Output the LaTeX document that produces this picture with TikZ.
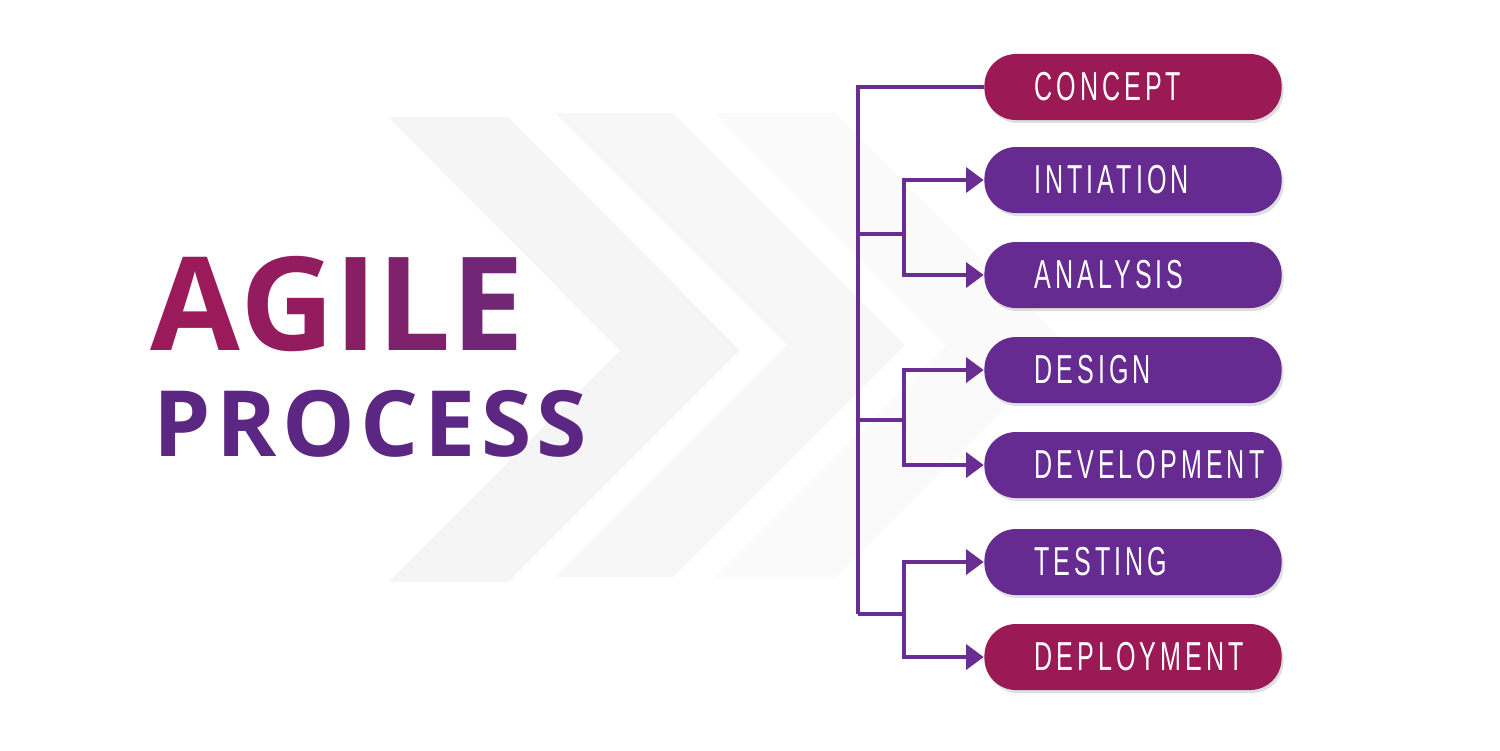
\documentclass[tikz,border=0pt]{standalone}
\usepackage{fontspec}
\setmainfont{Open Sans}
\newfontfamily\stepfont[LetterSpace=10,FakeStretch=0.62]{Liberation Sans}
\newfontfamily\agilefont[LetterSpace=45]{Open Sans}
\newfontfamily\processfont[LetterSpace=6]{Open Sans}
\usetikzlibrary{arrows.meta,shadows}
\definecolor{magentabox}{HTML}{9B1A55}
\definecolor{purplebox}{HTML}{652B90}
\definecolor{linepurple}{HTML}{6A2D91}
\tikzset{
  stepbox/.style={rounded corners=9pt,minimum width=2.97cm,minimum height=0.66cm,
    text=white,font=\stepfont\fontsize{11.5}{12}\selectfont,align=left,text width=1.97cm,
    inner xsep=0.5cm,
    drop shadow={opacity=.25,shadow xshift=.02cm,shadow yshift=-.03cm}},
  link/.style={linepurple,line width=1.4pt},
  tip/.style={-{Triangle[length=5pt,width=7pt]}}
}
\begin{document}
\begin{tikzpicture}[x=0.01cm,y=-0.01cm]
\useasboundingbox (0,0) rectangle (1500,750);
% chevrons in the background
\fill[black!2] (715,113) -- (835,113) -- (1067,345) -- (835,577) -- (715,577) -- (947,345) -- cycle;
\fill[black!3] (555,113) -- (673,113) -- (905,345) -- (673,577) -- (555,577) -- (787,345) -- cycle;
\fill[black!4] (388,117) -- (508,117) -- (740,350) -- (508,582) -- (388,582) -- (620,350) -- cycle;
% title
\node[anchor=south west,inner sep=0pt,font=\agilefont\bfseries\fontsize{37}{40}\selectfont] (agile) at (150,352)
  {\textcolor[HTML]{9A1A5A}{A}\textcolor[HTML]{921C5E}{G}\textcolor[HTML]{8A1E64}{I}\textcolor[HTML]{7E226C}{L}\textcolor[HTML]{722676}{E}};
\node[anchor=south west,inner sep=0pt,font=\processfont\bfseries\fontsize{26}{30}\selectfont,text=purplebox!90!black] (process) at (153,458) {PROCESS};
% steps
\node[stepbox,fill=magentabox] (concept) at (1133,87) {CONCEPT};
\node[stepbox,fill=purplebox] (initiation) at (1133,180) {INTIATION};
\node[stepbox,fill=purplebox] (analysis) at (1133,275) {ANALYSIS};
\node[stepbox,fill=purplebox] (design) at (1133,370) {DESIGN};
\node[stepbox,fill=purplebox] (development) at (1133,465) {DEVELOPMENT};
\node[stepbox,fill=purplebox] (testing) at (1133,562) {TESTING};
\node[stepbox,fill=magentabox] (deployment) at (1133,657) {DEPLOYMENT};
% connectors
\coordinate (trunk) at (858,614);
\draw[link] (concept.west) -- (858,87) -- (trunk);
\foreach \first/\second/\y in {initiation/analysis/234,design/development/420,testing/deployment/614}{
  \draw[link] (858,\y) -- (904,\y);
  \draw[link,tip] (904,\y) |- (\first.west);
  \draw[link,tip] (904,\y) |- (\second.west);
}
\end{tikzpicture}
\end{document}
